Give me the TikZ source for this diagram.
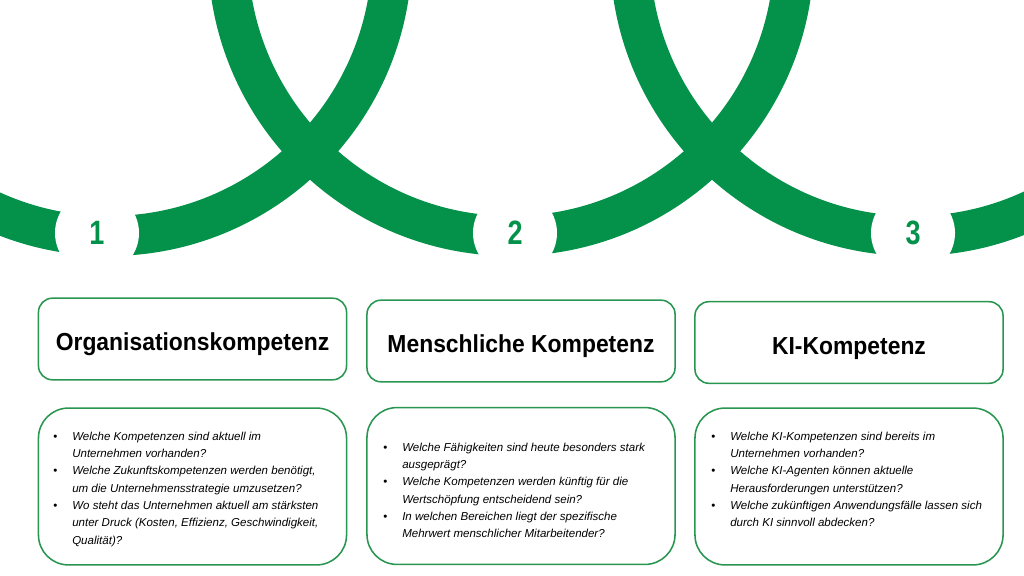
\documentclass[tikz,border=0pt]{standalone}
\usepackage{fontspec}
\setmainfont{Liberation Sans}
\newfontfamily\numfont[FakeStretch=0.8]{Liberation Sans}
\newfontfamily\headfont[FakeStretch=0.93]{Liberation Sans}
\usepackage{tikz}
\usetikzlibrary{positioning}

\definecolor{kgreen}{RGB}{4,146,74}
\definecolor{kborder}{RGB}{40,150,80}

\newcommand{\qlist}[1]{%
  \fontsize{8.2}{12.3}\selectfont
  \begin{tabular}{@{}p{13.5pt}@{}l@{}}#1\end{tabular}}

\begin{document}
\begin{tikzpicture}[x=0.025cm, y=-0.025cm,
  band/.style={draw=kgreen, line width=28.45pt},
  numdisc/.style={circle, fill=white, minimum size=2.1cm, inner sep=0pt,
    text=kgreen, font=\numfont\bfseries\fontsize{24}{24}\selectfont},
  titlebox/.style={draw=kborder, line width=1.1pt, rounded corners=0.35cm,
    minimum width=7.7cm, minimum height=2.04cm, text height=16.5pt, text depth=0pt,
    font=\headfont\bfseries\fontsize{17.5}{20}\selectfont},
  questionbox/.style={draw=kborder, line width=1.1pt, rounded corners=0.75cm,
    minimum width=7.7cm, minimum height=3.92cm},
  questions/.style={anchor=north west, inner sep=0pt, align=left}
]
	\useasboundingbox (0,0) rectangle (1024,576);
	
	% Drawing the green loops
	\begin{scope}
		\clip (0,0) rectangle (1024,576);
		\foreach \cx in {109,511,913}
			\draw[band] (\cx,-47) circle (283);
	\end{scope}
	
	% Drawing the number discs
	\node[numdisc] (n1) at (97,233) {1};
	\node[numdisc] (n2) at (515,233) {2};
	\node[numdisc] (n3) at (913,233) {3};
	
	% Drawing the title boxes
	\node[titlebox] (t1) at (192.5,339) {Organisationskompetenz};
	\node[titlebox] (t2) at (521,341) {Menschliche Kompetenz};
	\node[titlebox] (t3) at (849,342.5) {KI-Kompetenz};
	
	% Drawing the question boxes
	\node[questionbox] (q1) at (192.5,486.5) {};
	\node[questionbox] (q2) at (521,486) {};
	\node[questionbox] (q3) at (849,486.5) {};
	
	% Writing the questions
	\node[questions] (l1) at (53,428) {\qlist{
		\textbullet & \itshape Welche Kompetenzen sind aktuell im\\
		& \itshape Unternehmen vorhanden?\\
		\textbullet & \itshape Welche Zukunftskompetenzen werden benötigt,\\
		& \itshape um die Unternehmensstrategie umzusetzen?\\
		\textbullet & \itshape Wo steht das Unternehmen aktuell am stärksten\\
		& \itshape unter Druck (Kosten, Effizienz, Geschwindigkeit,\\
		& \itshape Qualität)?}};
	\node[questions] (l2) at (383,439) {\qlist{
		\textbullet & \itshape Welche Fähigkeiten sind heute besonders stark\\
		& \itshape ausgeprägt?\\
		\textbullet & \itshape Welche Kompetenzen werden künftig für die\\
		& \itshape Wertschöpfung entscheidend sein?\\
		\textbullet & \itshape In welchen Bereichen liegt der spezifische\\
		& \itshape Mehrwert menschlicher Mitarbeitender?}};
	\node[questions] (l3) at (711,428) {\qlist{
		\textbullet & \itshape Welche KI-Kompetenzen sind bereits im\\
		& \itshape Unternehmen vorhanden?\\
		\textbullet & \itshape Welche KI-Agenten können aktuelle\\
		& \itshape Herausforderungen unterstützen?\\
		\textbullet & \itshape Welche zukünftigen Anwendungsfälle lassen sich\\
		& \itshape durch KI sinnvoll abdecken?}};
\end{tikzpicture}
\end{document}
